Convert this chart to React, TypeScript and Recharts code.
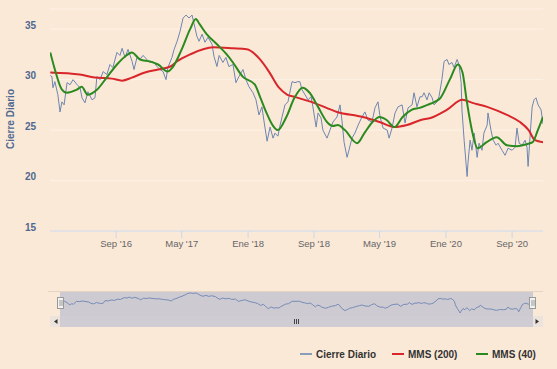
import { LineChart, Line, XAxis, YAxis, CartesianGrid, Label } from "recharts"

// Cierre diario
const cierreDiario: [string, number][] = [
  ["2016-01-02", 30.4], ["2016-01-08", 30.3], ["2016-01-12", 29.2], ["2016-01-19", 29.8],
  ["2016-01-30", 28.5], ["2016-02-07", 26.8], ["2016-02-14", 27.8], ["2016-02-22", 27.5],
  ["2016-03-04", 29.7], ["2016-03-15", 29.5], ["2016-03-26", 30.0], ["2016-04-10", 29.5],
  ["2016-04-21", 29.2], ["2016-04-28", 28.2], ["2016-05-09", 27.7], ["2016-05-20", 28.8],
  ["2016-06-04", 28.0], ["2016-06-15", 28.2], ["2016-06-22", 30.3], ["2016-07-04", 30.0],
  ["2016-07-15", 30.8], ["2016-07-29", 30.5], ["2016-08-09", 31.5], ["2016-08-20", 31.2],
  ["2016-09-04", 32.7], ["2016-09-15", 32.4], ["2016-09-23", 33.1], ["2016-10-04", 32.2],
  ["2016-10-15", 33.0], ["2016-10-30", 31.8], ["2016-11-06", 31.0], ["2016-11-17", 32.2],
  ["2016-11-28", 32.0], ["2016-12-09", 32.4], ["2016-12-24", 32.0], ["2017-01-04", 31.7],
  ["2017-01-15", 31.8], ["2017-01-30", 31.3], ["2017-02-10", 31.0], ["2017-02-21", 30.8],
  ["2017-03-04", 30.0], ["2017-03-11", 31.2], ["2017-03-26", 32.2], ["2017-04-03", 33.0],
  ["2017-04-14", 33.8], ["2017-04-25", 34.8], ["2017-05-06", 36.1], ["2017-05-17", 36.4],
  ["2017-05-28", 36.1], ["2017-06-08", 36.4], ["2017-06-15", 35.6], ["2017-06-26", 34.3],
  ["2017-07-04", 33.8], ["2017-07-15", 34.5], ["2017-07-26", 33.7], ["2017-08-06", 34.2],
  ["2017-08-21", 33.5], ["2017-08-28", 32.3], ["2017-09-08", 31.3], ["2017-09-16", 32.4],
  ["2017-09-30", 31.7], ["2017-10-11", 32.2], ["2017-10-22", 31.3], ["2017-11-06", 31.5],
  ["2017-11-17", 29.7], ["2017-11-28", 30.3], ["2017-12-13", 31.0], ["2017-12-24", 30.0],
  ["2018-01-04", 29.3], ["2018-01-19", 28.7], ["2018-01-30", 28.0], ["2018-02-10", 26.5],
  ["2018-02-21", 27.3], ["2018-03-01", 25.8], ["2018-03-12", 23.9], ["2018-03-23", 25.3],
  ["2018-04-03", 24.2], ["2018-04-10", 24.7], ["2018-04-21", 24.4], ["2018-04-29", 25.5],
  ["2018-05-17", 27.5], ["2018-05-28", 27.8], ["2018-06-12", 29.8], ["2018-06-23", 29.7],
  ["2018-07-04", 29.8], ["2018-07-11", 29.8], ["2018-07-19", 29.0], ["2018-07-30", 28.5],
  ["2018-08-10", 28.0], ["2018-08-21", 28.3], ["2018-08-28", 27.3], ["2018-09-09", 25.3],
  ["2018-09-16", 26.7], ["2018-09-27", 26.2], ["2018-10-04", 25.0], ["2018-10-19", 24.2],
  ["2018-10-30", 25.0], ["2018-11-10", 25.8], ["2018-11-25", 26.3], ["2018-12-06", 27.5],
  ["2018-12-13", 26.0], ["2018-12-21", 23.8], ["2019-01-01", 22.3], ["2019-01-08", 23.0],
  ["2019-01-19", 24.2], ["2019-01-30", 24.7], ["2019-02-11", 25.5], ["2019-02-25", 26.3],
  ["2019-03-08", 26.8], ["2019-03-19", 26.0], ["2019-04-03", 25.8], ["2019-04-14", 27.2],
  ["2019-04-25", 27.8], ["2019-05-03", 26.3], ["2019-05-14", 25.2], ["2019-05-29", 25.0],
  ["2019-06-05", 24.2], ["2019-06-16", 25.2], ["2019-06-27", 26.7], ["2019-07-08", 27.3],
  ["2019-07-23", 27.5], ["2019-08-03", 25.7], ["2019-08-14", 27.2], ["2019-08-29", 27.5],
  ["2019-09-05", 28.7], ["2019-09-16", 27.3], ["2019-09-27", 28.3], ["2019-10-05", 28.3],
  ["2019-10-12", 28.7], ["2019-10-23", 28.0], ["2019-10-31", 28.7], ["2019-11-11", 28.2],
  ["2019-11-18", 27.5], ["2019-11-29", 27.8], ["2019-12-06", 28.3], ["2019-12-17", 30.0],
  ["2019-12-25", 31.8], ["2020-01-05", 32.0], ["2020-01-12", 31.5], ["2020-01-23", 31.7],
  ["2020-01-31", 31.2], ["2020-02-11", 32.0], ["2020-02-18", 31.5], ["2020-02-26", 29.7],
  ["2020-02-29", 27.0], ["2020-03-08", 24.0], ["2020-03-19", 20.4], ["2020-03-22", 21.7],
  ["2020-03-30", 24.0], ["2020-04-06", 23.0], ["2020-04-14", 24.7], ["2020-04-25", 22.3],
  ["2020-05-02", 23.7], ["2020-05-13", 23.0], ["2020-05-20", 24.7], ["2020-06-01", 25.5],
  ["2020-06-04", 26.7], ["2020-06-15", 25.0], ["2020-06-23", 24.0], ["2020-07-04", 23.5],
  ["2020-07-11", 23.7], ["2020-07-26", 23.0], ["2020-08-06", 22.5], ["2020-08-17", 23.2],
  ["2020-09-01", 23.0], ["2020-09-12", 23.3], ["2020-09-19", 25.2], ["2020-09-27", 23.7],
  ["2020-10-08", 23.5], ["2020-10-19", 24.0], ["2020-10-26", 23.3], ["2020-10-30", 21.4],
  ["2020-11-06", 24.3], ["2020-11-14", 27.3], ["2020-11-21", 28.0], ["2020-11-28", 28.2],
  ["2020-12-06", 27.5], ["2020-12-17", 27.0], ["2020-12-24", 25.6],
]

// Media móvil simple 200 sesiones
const mms200: [string, number][] = [
  ["2016-01-02", 30.7], ["2016-04-20", 30.5], ["2016-06-14", 30.2], ["2016-08-16", 30.1],
  ["2016-09-23", 29.9], ["2016-10-29", 30.2], ["2016-12-16", 30.7], ["2017-02-03", 31.0],
  ["2017-03-20", 31.3], ["2017-04-13", 31.8], ["2017-06-01", 32.5], ["2017-08-25", 33.2],
  ["2017-11-06", 33.1], ["2017-12-27", 33.0], ["2018-02-14", 32.0], ["2018-03-21", 30.7],
  ["2018-04-25", 29.2], ["2018-05-26", 28.5], ["2018-06-21", 28.3], ["2018-09-01", 27.7],
  ["2018-11-25", 26.8], ["2019-02-28", 26.3], ["2019-05-01", 25.8], ["2019-06-25", 25.3],
  ["2019-08-10", 25.5], ["2019-09-30", 26.0], ["2019-11-05", 26.2], ["2020-01-04", 27.0],
  ["2020-03-02", 28.0], ["2020-04-08", 27.7], ["2020-06-01", 27.3], ["2020-08-13", 26.5],
  ["2020-09-30", 25.8], ["2020-11-01", 25.0], ["2020-11-24", 24.0], ["2020-12-24", 23.8],
]

// Media móvil simple 40 sesiones
const mms40: [string, number][] = [
  ["2016-01-02", 32.7], ["2016-01-19", 31.0], ["2016-02-14", 29.0], ["2016-03-02", 28.7],
  ["2016-04-09", 29.0], ["2016-04-27", 29.3], ["2016-05-19", 28.5], ["2016-06-22", 29.0],
  ["2016-07-28", 30.2], ["2016-09-04", 31.5], ["2016-10-04", 32.3], ["2016-10-29", 32.7],
  ["2016-11-28", 32.0], ["2017-01-04", 31.8], ["2017-02-03", 31.5], ["2017-03-10", 30.8],
  ["2017-03-28", 31.2], ["2017-05-01", 33.0], ["2017-06-01", 35.0], ["2017-06-22", 36.0],
  ["2017-07-06", 35.5], ["2017-08-01", 34.5], ["2017-09-08", 33.5], ["2017-10-14", 32.5],
  ["2017-11-06", 31.7], ["2017-12-12", 30.3], ["2018-01-26", 29.5], ["2018-02-14", 28.3],
  ["2018-03-10", 26.7], ["2018-04-01", 25.5], ["2018-04-20", 25.0], ["2018-05-22", 26.3],
  ["2018-06-21", 28.2], ["2018-07-21", 29.2], ["2018-08-16", 28.7], ["2018-09-16", 27.3],
  ["2018-10-19", 25.8], ["2018-11-10", 25.4], ["2018-11-28", 25.5], ["2018-12-24", 25.0],
  ["2019-02-07", 23.7], ["2019-03-06", 24.7], ["2019-04-05", 25.8], ["2019-05-01", 26.3],
  ["2019-05-27", 26.0], ["2019-06-25", 25.3], ["2019-07-25", 26.3], ["2019-08-27", 27.0],
  ["2019-09-26", 27.2], ["2019-10-25", 27.5], ["2019-11-21", 27.8], ["2019-12-09", 28.1],
  ["2020-01-15", 30.0], ["2020-02-14", 31.5], ["2020-03-02", 30.7], ["2020-03-17", 28.0],
  ["2020-04-08", 24.7], ["2020-04-27", 23.2], ["2020-05-30", 23.8], ["2020-07-06", 24.3],
  ["2020-08-13", 23.5], ["2020-09-19", 23.4], ["2020-10-25", 23.6], ["2020-11-16", 23.8],
  ["2020-12-05", 25.0], ["2020-12-24", 26.3],
]

const tickFechas = ["2016-09-01", "2017-05-01", "2018-01-01", "2018-09-01", "2019-05-01", "2020-01-01", "2020-09-01"]
const tickEtiquetas = ["Sep '16", "May '17", "Ene '18", "Sep '18", "May '19", "Ene '20", "Sep '20"]
const yTicks = [15, 20, 25, 30, 35]
const navFechas = ["2018-01-01", "2020-01-01"]
const navEtiquetas = ["2018", "2020"]
const rango = ["2016-01-01", "2020-12-24"]

const toPts = (arr: [string, number][]) => arr.map(([d, v]) => ({ t: Date.parse(d), v }))

const BG = "#fbe9d8"
const FONT = "'Liberation Sans', Arial, sans-serif"
const AXIS_BLUE = "#4e6890"

const xDomain = rango.map((d) => Date.parse(d))
const xTicks = tickFechas.map((d) => Date.parse(d))
const etiquetaDe = (t: number) => tickEtiquetas[xTicks.indexOf(t)] ?? ""
const navTicks = navFechas.map((d) => Date.parse(d))

const YTick = (props: any) => {
  const { x, y, payload } = props
  return (
    <text x={x} y={y - 4} textAnchor="end" dominantBaseline="central" fill={AXIS_BLUE} fontSize={10} fontWeight={700} fontFamily={FONT}>
      {payload.value}
    </text>
  )
}

const XTick = (props: any) => {
  const { x, y, payload } = props
  return (
    <text x={x} y={y + 4} textAnchor="middle" dominantBaseline="central" fill="#666" fontSize={9.5} fontFamily={FONT}>
      {etiquetaDe(payload.value)}
    </text>
  )
}

const NavTick = (props: any) => {
  const { x, payload } = props
  const i = navTicks.indexOf(payload.value)
  return (
    <text x={x + 3} y={309} textAnchor="start" dominantBaseline="central" fill="#999" fontSize={10} fontFamily={FONT}>
      {navEtiquetas[i]}
    </text>
  )
}

export default function App() {
  const cierre = toPts(cierreDiario)
  const m200 = toPts(mms200)
  const m40 = toPts(mms40)

  return (
    <div style={{ position: "absolute", left: 0, top: 0, width: 557, height: 369, background: BG, overflow: "hidden", fontFamily: FONT }}>
      {/* Gráfico principal */}
      <LineChart width={557} height={262} margin={{ top: 9, right: 14, bottom: 0, left: 0 }}>
        <CartesianGrid horizontal vertical={false} stroke="#fdf1e6" />
        <XAxis
          dataKey="t"
          type="number"
          scale="time"
          domain={xDomain}
          ticks={xTicks}
          interval={0}
          tick={<XTick />}
          stroke="#ccd6eb"
          tickSize={7}
          tickMargin={1}
          height={31}
          allowDataOverflow
        />
        <YAxis
          type="number"
          domain={[15, 37]}
          ticks={yTicks}
          interval={0}
          tick={<YTick />}
          axisLine={false}
          tickLine={false}
          tickSize={6}
          tickMargin={8}
          width={50}
          allowDataOverflow
        >
          <Label
            content={() => (
              <text x={10} y={119} transform="rotate(-90 10 119)" textAnchor="middle" dominantBaseline="central" fill={AXIS_BLUE} fontSize={10} fontWeight={700} fontFamily={FONT}>
                Cierre Diario
              </text>
            )}
          />
        </YAxis>
        <Line data={cierre} dataKey="v" type="linear" stroke="#6d86b0" strokeWidth={1} dot={false} isAnimationActive={false} />
        <Line data={m200} dataKey="v" type="monotone" stroke="#d8262b" strokeWidth={2} dot={false} isAnimationActive={false} />
        <Line data={m40} dataKey="v" type="monotone" stroke="#2b8a1f" strokeWidth={2} dot={false} isAnimationActive={false} />
      </LineChart>

      {/* Navegador */}
      <svg width={557} height={369} style={{ position: "absolute", left: 0, top: 0 }}>
        <line x1={48} x2={543} y1={291.5} y2={291.5} stroke="#e6d3c2" />
      </svg>
      <div style={{ position: "absolute", left: 0, top: 285 }}>
        <LineChart width={557} height={45} margin={{ top: 8, right: 24, bottom: 17, left: 60 }}>
          <XAxis
            dataKey="t"
            type="number"
            scale="time"
            domain={xDomain}
            ticks={navTicks}
            interval={0}
            tick={(p: any) => <NavTick {...p} />}
            axisLine={false}
            tickLine={false}
            height={0}
          />
          <YAxis type="number" domain={["dataMin", "dataMax"]} hide />
          <Line data={cierre} dataKey="v" type="linear" stroke="#7d8fb0" strokeWidth={1} dot={false} isAnimationActive={false} />
        </LineChart>
      </div>
      <svg width={557} height={369} style={{ position: "absolute", left: 0, top: 0, pointerEvents: "none" }}>
        {/* máscara del rango seleccionado */}
        <rect x={60} y={292} width={473} height={24} fill="rgba(102,133,194,0.3)" />
        {/* barra de desplazamiento */}
        <rect x={50} y={316} width={10} height={11} fill="#ebe3dc" />
        <rect x={533} y={316} width={10} height={11} fill="#ebe3dc" />
        <path d="M57.5 319 L54 321.5 L57.5 324 Z" fill="#333" />
        <path d="M535.5 319 L539 321.5 L535.5 324 Z" fill="#333" />
        <rect x={60} y={316} width={473} height={11} fill="#cfccd3" />
        <g stroke="#444" strokeWidth={1}>
          <line x1={294.5} x2={294.5} y1={319} y2={324} />
          <line x1={296.5} x2={296.5} y1={319} y2={324} />
          <line x1={298.5} x2={298.5} y1={319} y2={324} />
        </g>
        {/* manijas */}
        {[60.5, 532.5].map((hx) => (
          <g key={hx}>
            <rect x={hx - 3} y={297.5} width={6} height={11} fill="#f2f2f2" stroke="#999" />
            <line x1={hx - 0.5} x2={hx - 0.5} y1={300} y2={306} stroke="#999" />
            <line x1={hx + 1.5} x2={hx + 1.5} y1={300} y2={306} stroke="#999" />
          </g>
        ))}
        {/* leyenda */}
        <g fontFamily={FONT} fontSize={10} fontWeight={700} fill="#333">
          <line x1={300} x2={312} y1={354} y2={354} stroke="#8a9bbb" strokeWidth={2} />
          <text x={316} y={354} dominantBaseline="central">Cierre Diario</text>
          <line x1={392} x2={404} y1={354} y2={354} stroke="#d8262b" strokeWidth={2} />
          <text x={408} y={354} dominantBaseline="central">MMS (200)</text>
          <line x1={476} x2={488} y1={354} y2={354} stroke="#2b8a1f" strokeWidth={2} />
          <text x={492} y={354} dominantBaseline="central">MMS (40)</text>
        </g>
      </svg>
    </div>
  )
}
